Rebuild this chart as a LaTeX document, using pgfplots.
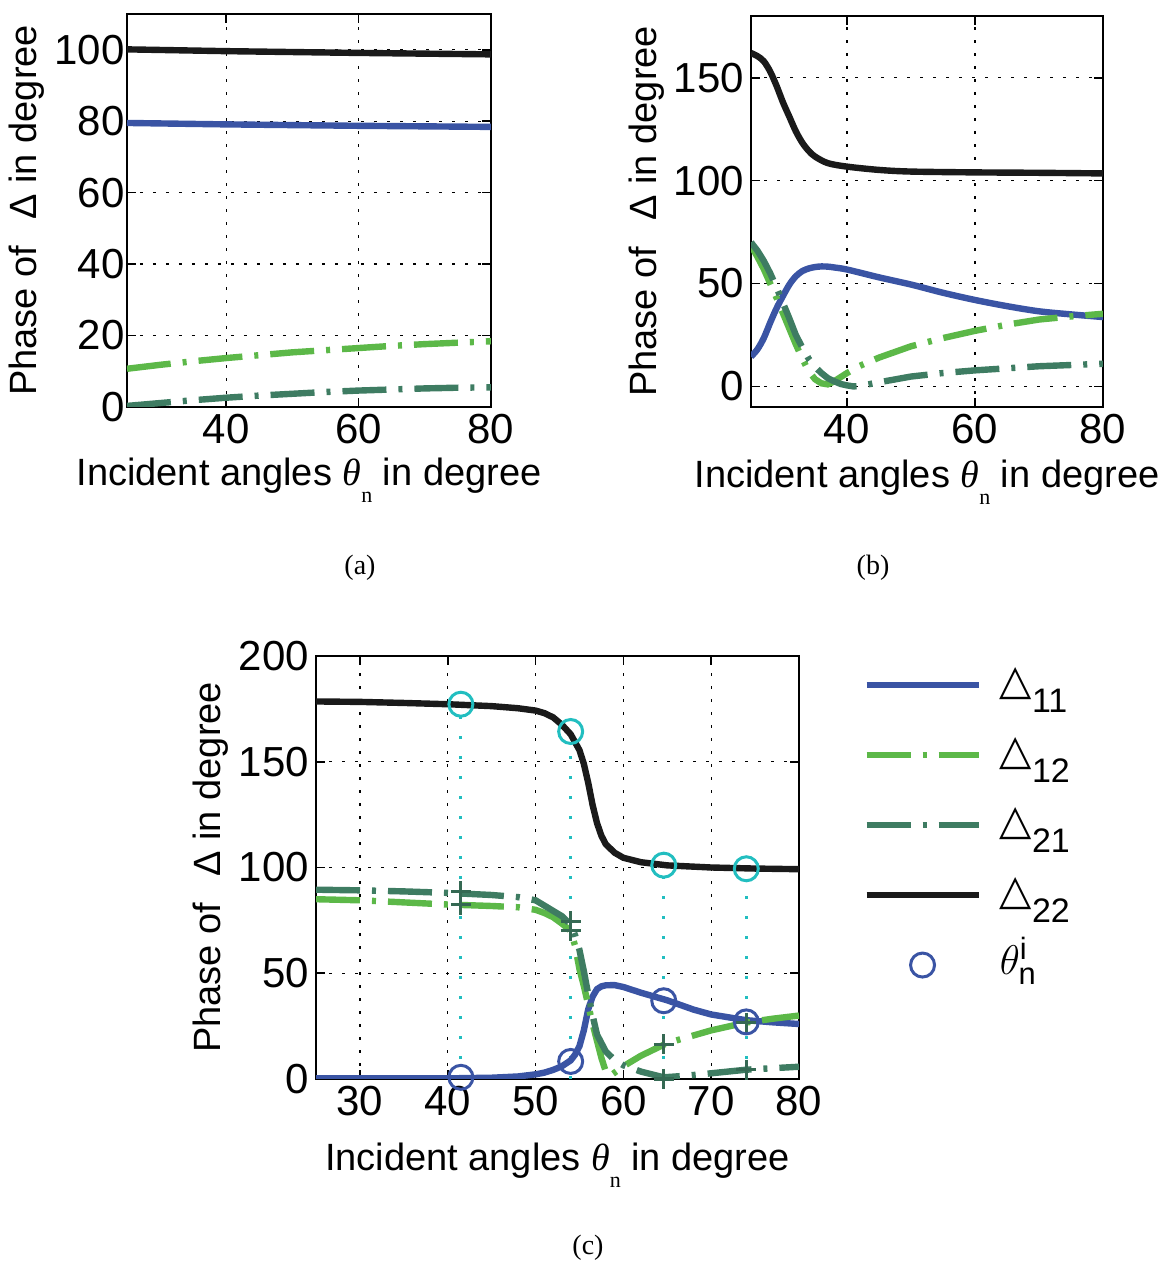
\documentclass[border=0pt]{standalone}
\usepackage{fontspec}
\setmainfont{Liberation Sans}
\newfontfamily\serif{Liberation Serif}
\newfontfamily\dejavu{DejaVu Sans}
\usepackage{pgfplots}
\pgfplotsset{compat=1.18}

\definecolor{cblue}{RGB}{58,84,164}
\definecolor{clgreen}{RGB}{92,184,72}
\definecolor{cdgreen}{RGB}{62,124,98}
\definecolor{ccyan}{RGB}{34,190,192}
\definecolor{cblack}{RGB}{26,26,26}

\newcommand\thn{{\serif\itshape θ}\raisebox{-0.45em}{\serif\fontsize{11}{11}\selectfont n}}
\newcommand\tri[1]{\hspace{7pt}{\dejavu\fontsize{21}{21}\selectfont △}\raisebox{-0.55em}{#1}}

\pgfplotsset{
  phase/.style={
    scale only axis,
    axis line style={line width=1.2pt},
    grid=major,
    grid style={black, line width=0.6pt, dash pattern=on 1.5pt off 5pt},
    tick style={black, line width=0.8pt},
    tick align=inside,
    ticklabel style={font=\fontsize{21}{24}\selectfont},
    /pgf/number format/assume math mode=true,
    label style={font=\fontsize{19}{22}\selectfont},
    xlabel={Incident angles \thn\ in degree},
    ylabel={Phase of\hspace{0.7em}Δ in degree},
    xmin=25, xmax=80,
    legend image code/.code={\draw[##1] (0pt,0pt) -- (56pt,0pt);},
  },
  markleg/.style={legend image code/.code={\draw[##1] plot coordinates {(28pt,0pt)};}},
  solidln/.style={line width=3.2pt},
  dd/.style={line width=3.2pt, dash pattern=on 22pt off 6pt on 2pt off 6pt},
}

\begin{document}
\begin{tikzpicture}
\path[use as bounding box] (0,0) rectangle (580.5pt,632.5pt);

% (a)
\begin{axis}[phase, at={(63.5pt,429pt)}, anchor=south west,
  width=182pt, height=196.5pt,
  ymin=0, ymax=110, xtick={40,60,80}, ytick={0,20,...,100},
  yticklabel style={inner xsep=1pt},
  xlabel style={at={(axis description cs:0.5,-0.186)}, anchor=center},
  ylabel style={at={(axis description cs:-0.275,0.5)}, anchor=center}]
\addplot[solidln, cblack] coordinates {(25,100.1)(40,99.6)(60,99.1)(80,98.7)};
\addplot[solidln, cblue] coordinates {(25,79.5)(40,79.1)(60,78.7)(80,78.4)};
\addplot[dd, clgreen] coordinates {(25,10.7)(30,11.8)(35,12.8)(40,13.7)(45,14.5)(50,15.3)(55,15.9)(60,16.5)(65,17.1)(70,17.6)(75,18.0)(80,18.4)};
\addplot[dd, cdgreen] coordinates {(25,0.3)(30,1.1)(35,1.9)(40,2.6)(45,3.2)(50,3.7)(55,4.2)(60,4.6)(65,4.9)(70,5.2)(75,5.4)(80,5.5)};
\end{axis}

% (b)
\begin{axis}[phase, at={(375.5pt,429pt)}, anchor=south west,
  width=176pt, height=195.5pt,
  ymin=-10, ymax=180, xtick={40,60,80}, ytick={0,50,100,150},
  xlabel style={at={(axis description cs:0.5,-0.192)}, anchor=center},
  ylabel style={at={(axis description cs:-0.295,0.5)}, anchor=center}]
\addplot[solidln, cblack, smooth] coordinates {(25,162)(26,160.5)(27,158)(28,153)(29,146)(30,138)(31,131)(32,124)(33,118.5)(34,114.5)(35,111.7)(37,108.5)(40,106.8)(45,105.2)(50,104.4)(60,104)(70,103.8)(80,103.5)};
\addplot[solidln, cblue, smooth] coordinates {(25,14.5)(26,18)(27,23.5)(28,31)(29,38)(30,44)(31,49.5)(32,53.5)(33,56)(34,57.3)(35,58)(36,58.3)(37,58.2)(38,57.8)(40,56.8)(45,53)(50,49.5)(55,45.5)(60,42)(65,39)(70,36.5)(75,35)(80,33.7)};
\addplot[dd, clgreen] coordinates {(25,68.5)(26,63)(27,57)(28,50)(29,43)(30,35.5)(31,28)(32,20.5)(33,13.5)(34,7.5)(35,3.5)(36,1.5)(37,1)(38,2.5)(40,6.5)(42,10)(45,14)(50,19.5)(55,23.5)(60,27)(65,30)(70,32.5)(75,34)(80,35.3)};
\addplot[dd, cdgreen] coordinates {(25,70)(26,66)(27,61)(28,55)(29,48)(30,40.5)(31,33)(32,25)(33,19)(34,13.5)(35,9.5)(36,6.5)(37,4)(38,2.5)(39,1.2)(40,0.5)(41,0)(42,0.2)(45,2)(50,4.8)(55,6.5)(60,7.8)(70,9.8)(80,11)};
\end{axis}

% (c)
\begin{axis}[phase, at={(158pt,93pt)}, anchor=south west,
  width=241.5pt, height=211.5pt,
  ymin=0, ymax=200, xtick={30,40,...,80}, ytick={0,50,...,200},
  xlabel style={at={(axis description cs:0.5,-0.203)}, anchor=center},
  ylabel style={at={(axis description cs:-0.219,0.5)}, anchor=center},
  legend style={at={(1.12,1.015)}, anchor=north west, draw=none, fill=none,
    font=\fontsize{17}{20}\selectfont, row sep=4pt,
    nodes={text height=18pt, text depth=9pt}},
  legend cell align=left]
\addplot[ccyan, line width=1.5pt, dash pattern=on 1.5pt off 8.5pt, forget plot] coordinates {(41.5,0)(41.5,172)};
\addplot[ccyan, line width=1.5pt, dash pattern=on 1.5pt off 8.5pt, forget plot] coordinates {(54,0)(54,158)};
\addplot[ccyan, line width=1.5pt, dash pattern=on 1.5pt off 8.5pt, forget plot] coordinates {(64.6,0)(64.6,96)};
\addplot[ccyan, line width=1.5pt, dash pattern=on 1.5pt off 8.5pt, forget plot] coordinates {(74,0)(74,94)};
\addplot[solidln, cblue] coordinates {(25,0.3)(40,0.3)(45,0.6)(48,1.2)(50,2.2)(51,3)(52,4.3)(53,6)(54,8.8)(54.5,11.5)(55,15.5)(55.5,23)(56,33)(56.5,39)(57,42.5)(57.5,43.8)(58,44.3)(59,44.4)(60,43.5)(62,40.8)(65,37.2)(68,32.8)(70,30.5)(74,27.8)(77,26.8)(80,26)};
\addlegendentry{\tri{11}}
\addplot[dd, clgreen] coordinates {(25,85)(30,84.5)(35,83.5)(40,82.5)(45,81.8)(48,81.2)(50,80)(51,78.5)(52,76.5)(53,73.5)(54,70)(54.5,63)(55,52)(55.5,44)(56,35)(56.5,26)(57,18)(57.5,10)(58,3.5)(58.5,1.5)(59,3)(60,6)(62,11)(65,17)(70,23)(74,26.7)(77,28.5)(80,30)};
\addlegendentry{\tri{12}}
\addplot[dd, cdgreen] coordinates {(25,89.5)(30,89.2)(35,88.7)(40,88)(45,87)(48,86)(50,84.5)(51,82)(52,79.5)(53,77)(54,73)(54.5,68)(55,61)(55.5,51)(56,40)(56.5,30)(57,21)(58,13)(59,9)(60,6.5)(62,3.5)(64.6,0.8)(67,1.5)(70,2.7)(74,4.4)(80,5.8)};
\addlegendentry{\tri{21}}
\addplot[solidln, cblack] coordinates {(25,178.5)(30,178.3)(35,177.8)(40,177.2)(45,176.3)(48,175.3)(50,174.2)(51,173)(52,171)(53,167.5)(54,163)(55,155.5)(55.5,149)(56,140)(56.5,129.5)(57,121)(57.5,115)(58,111)(59,107)(60,104.6)(62,102.5)(65,101)(70,100)(75,99.5)(80,99.2)};
\addlegendentry{\tri{22}}
\addplot[only marks, cdgreen!85!black, mark=+, mark size=5pt, line width=1.5pt, forget plot] coordinates {(41.5,88.8)(41.5,82.5)(54,74.7)(54,70)(64.6,16.5)(64.6,0)(74,26.7)(74,4.4)};
\addplot[only marks, ccyan, mark=o, mark size=6pt, line width=1.5pt, forget plot] coordinates {(41.5,177.2)(54,164.3)(64.6,101.1)(74,99.4)};
\addplot[only marks, cblue, mark=o, mark size=6pt, line width=1.5pt, markleg] coordinates {(41.5,0.8)(54,8.3)(64.6,37)(74,27)};
\addlegendentry{\hspace{7pt}{\fontsize{22}{24}\selectfont$\theta^{\mathrm{i}}_{\mathrm{n}}$}}
\end{axis}

\node[font=\serif\fontsize{14}{16}\selectfont] at (180pt,348.5pt) {(a)};
\node[font=\serif\fontsize{14}{16}\selectfont] at (436.5pt,348.5pt) {(b)};
\node[font=\serif\fontsize{14}{16}\selectfont] at (294pt,8.5pt) {(c)};
\end{tikzpicture}
\end{document}
